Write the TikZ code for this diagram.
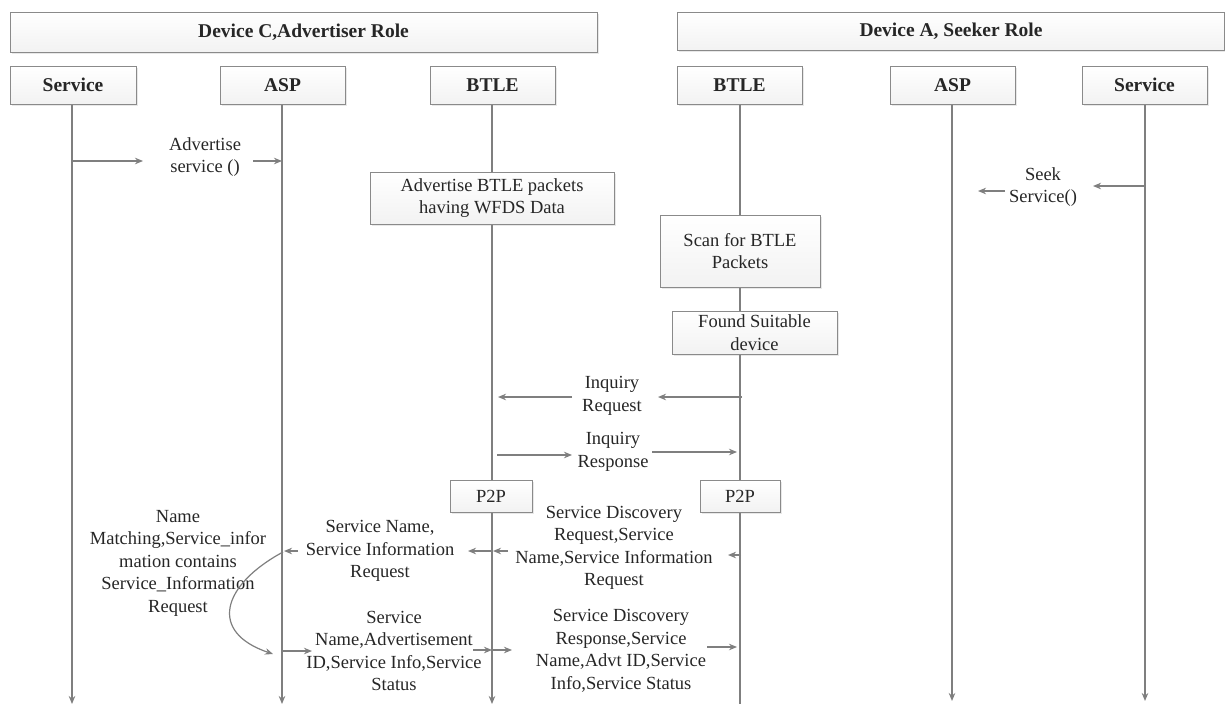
\documentclass[tikz,border=0pt]{standalone}
\usepackage{fontspec}
\setmainfont{Liberation Serif}
\usetikzlibrary{arrows.meta,shadows}

\definecolor{linegray}{HTML}{7F7F7F}
\definecolor{boxedge}{HTML}{8A8A8A}
\definecolor{inkc}{HTML}{262626}

\tikzset{
  txt/.style={font=\fontsize{18.5}{22.5}\selectfont, text=inkc, align=center, inner sep=0pt},
  boxstyle/.style={txt, draw=boxedge, line width=1pt, top color=white, bottom color=gray!10,
    drop shadow={opacity=0.18, shadow xshift=1.5pt, shadow yshift=-1.5pt}},
  headbox/.style={boxstyle, font=\bfseries\fontsize{19.5}{22}\selectfont},
  life/.style={draw=linegray, line width=1.2pt},
  tip/.style={-{Stealth[length=8pt,width=6.5pt,inset=2.5pt]}},
  lifearrow/.style={life, tip},
  msg/.style={draw=linegray, line width=1.2pt, tip},
}

\begin{document}
\begin{tikzpicture}[x=1pt,y=-1pt]
\useasboundingbox (0,0) rectangle (1225,704);

% role headers
\node[headbox, minimum width=587pt, minimum height=40pt] (roleC) at (303.5,32) {Device C,Advertiser Role};
\node[headbox, minimum width=547pt, minimum height=38pt] (roleA) at (951,31) {Device A, Seeker Role};

% participants
\node[headbox, minimum width=126pt, minimum height=38pt] (svcC) at (73,85) {Service};
\node[headbox, minimum width=125pt, minimum height=38pt] (aspC) at (282.5,85) {ASP};
\node[headbox, minimum width=125pt, minimum height=38pt] (btC) at (492.5,85) {BTLE};
\node[headbox, minimum width=125pt, minimum height=38pt] (btA) at (739.5,85) {BTLE};
\node[headbox, minimum width=125pt, minimum height=38pt] (aspA) at (952.5,85) {ASP};
\node[headbox, minimum width=125pt, minimum height=38pt] (svcA) at (1144.5,85) {Service};

% lifeline ends
\coordinate (endSvcC) at (72,704);
\coordinate (endAspC) at (282,704);
\coordinate (endBtC) at (492,704);
\coordinate (endBtA) at (740,704);
\coordinate (endAspA) at (952,701);
\coordinate (endSvcA) at (1145,701);

\draw[lifearrow] (svcC.south -| endSvcC) -- (endSvcC);
\draw[lifearrow] (aspC.south -| endAspC) -- (endAspC);
\draw[lifearrow] (btC.south -| endBtC) -- (endBtC);
\draw[life] (btA.south -| endBtA) -- (endBtA);
\draw[lifearrow] (aspA.south -| endAspA) -- (endAspA);
\draw[lifearrow] (svcA.south -| endSvcA) -- (endSvcA);

% activity boxes on the lifelines
\node[boxstyle, minimum width=244pt, minimum height=52pt] (advbox) at (492,198) {Advertise BTLE packets\\having WFDS Data};
\node[boxstyle, minimum width=160pt, minimum height=72pt] (scanbox) at (740,251) {Scan for BTLE\\Packets};
\node[boxstyle, minimum width=165pt, minimum height=43pt] (foundbox) at (754.5,332.5) {Found Suitable\\device};
\node[boxstyle, minimum width=82pt, minimum height=32pt] (p2pC) at (491,496) {P2P};
\node[boxstyle, minimum width=80pt, minimum height=32pt] (p2pA) at (740,496) {P2P};

% message labels
\node[txt] (advsvc) at (205,157) {Advertise\\service ()};
\node[txt] (seek) at (1043,187) {Seek\\Service()};
\node[txt] (inqreq) at (612,396) {Inquiry\\Request};
\node[txt] (inqresp) at (613,452) {Inquiry\\Response};
\node[txt] (sdreq) at (614,548) {Service Discovery\\Request,Service\\Name,Service Information\\Request};
\node[txt] (snreq) at (380,551) {Service Name,\\Service Information\\Request};
\node[txt] (match) at (178,563) {Name\\Matching,Service\_infor\\mation contains\\Service\_Information\\Request};
\node[txt] (snresp) at (394,651) {Service\\Name,Advertisement\\ID,Service Info,Service\\Status};
\node[txt] (sdresp) at (621,651) {Service Discovery\\Response,Service\\Name,Advt ID,Service\\Info,Service Status};

% message arrows
\coordinate (a1s) at (72,161);   \coordinate (a1e) at (143,161);
\coordinate (a2s) at (253,161);  \coordinate (a2e) at (282,161);
\draw[msg] (a1s) -- (a1e);
\draw[msg] (a2s) -- (a2e);

\coordinate (s1s) at (1145,186); \coordinate (s1e) at (1093,186);
\coordinate (s2s) at (1005,191); \coordinate (s2e) at (978,191);
\draw[msg] (s1s) -- (s1e);
\draw[msg] (s2s) -- (s2e);

\coordinate (q1s) at (742,397);  \coordinate (q1e) at (658,397);
\coordinate (q2s) at (572,397);  \coordinate (q2e) at (498,397);
\draw[msg] (q1s) -- (q1e);
\draw[msg] (q2s) -- (q2e);

\coordinate (r1s) at (497,455);  \coordinate (r1e) at (572,455);
\coordinate (r2s) at (652,452);  \coordinate (r2e) at (737,452);
\draw[msg] (r1s) -- (r1e);
\draw[msg] (r2s) -- (r2e);

\coordinate (d1s) at (741,555);  \coordinate (d1e) at (728,555);
\coordinate (d2s) at (508,551);  \coordinate (d2e) at (493,551);
\coordinate (d3s) at (492,551);  \coordinate (d3e) at (468,551);
\coordinate (d4s) at (298,551);  \coordinate (d4e) at (284,551);
\draw[msg] (d1s) -- (d1e);
\draw[msg] (d2s) -- (d2e);
\draw[msg] (d3s) -- (d3e);
\draw[msg] (d4s) -- (d4e);

% name matching loop
\coordinate (loopS) at (283,552);
\coordinate (loopE) at (273,654);
\draw[msg] (loopS) .. controls (222,585) and (208,632) .. (loopE);

\coordinate (p1s) at (283,651);  \coordinate (p1e) at (312,651);
\coordinate (p2s) at (473,650);  \coordinate (p2e) at (492,650);
\coordinate (p3s) at (493,650);  \coordinate (p3e) at (512,650);
\coordinate (p4s) at (707,647);  \coordinate (p4e) at (737,647);
\draw[msg] (p1s) -- (p1e);
\draw[msg] (p2s) -- (p2e);
\draw[msg] (p3s) -- (p3e);
\draw[msg] (p4s) -- (p4e);
\end{tikzpicture}
\end{document}
